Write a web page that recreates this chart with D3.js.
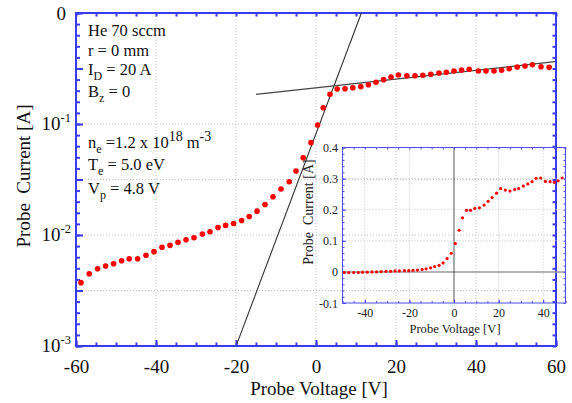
<!DOCTYPE html>
<html><head><meta charset="utf-8">
<script src="https://cdn.jsdelivr.net/npm/d3@7"></script>
<style>
html,body{margin:0;padding:0;background:#fff;}
svg{display:block;font-family:"Liberation Serif","Times New Roman",serif;}
</style></head><body>
<svg id="chart" width="572" height="403"></svg>
<script>
// ---- main (semi-log) data ----
const voltage = [-58.75,-56.7,-54.6,-52.6,-50.6,-48.6,-46.7,-44.6,-42.5,-40.5,-38.5,-36.5,-34.5,-32.5,-30.5,-28.4,-26.5,-24.5,-22.6,-20.6,-18.6,-16.7,-14.75,-12.75,-10.75,-8.75,-6.7,-5,-3.2,-1.25,0.4,1.8,3.5,5.3,7.25,9.2,11.2,13.1,15,16.9,18.75,20.6,22.7,24.75,26.7,28.7,30.75,32.6,34.5,36.4,38.3,40.6,42.5,44.5,46.4,48.3,50.3,52.25,54.1,56.25,58.3];
const current = [0.00372,0.00448,0.00497,0.00526,0.00551,0.00586,0.00611,0.00611,0.00656,0.00708,0.00775,0.00807,0.00859,0.00907,0.00946,0.0102,0.0107,0.0117,0.0122,0.0127,0.0135,0.0147,0.0164,0.0188,0.0221,0.0260,0.0302,0.0377,0.0497,0.0679,0.098,0.140,0.185,0.207,0.208,0.212,0.217,0.226,0.238,0.251,0.265,0.276,0.272,0.272,0.275,0.281,0.288,0.292,0.300,0.307,0.311,0.300,0.300,0.300,0.305,0.315,0.326,0.333,0.342,0.328,0.324];
// fit lines
const steepFitV = [-19.8, 11.35];
const steepFitI = [0.00104, 1];
const flatFitV = [-15, 59.75];
const flatFitI = [0.185, 0.364];
// ticks
const xTicks = [-60,-40,-20,0,20,40,60];
const yTickExp = [-3,-2,-1,0];
const yTickBase = ["10","10","10","0"];
const yTickSup = ["-3","-2","-1",""];
// ---- inset (linear) data ----
const insetVoltage = [-49.2,-47.2,-45,-42.9,-41,-38.9,-36.8,-34.7,-32.7,-30.5,-28.4,-26.4,-24.5,-22.2,-20.3,-18.4,-16.4,-14.3,-12.5,-10.5,-8.7,-6.7,-4.9,-3.1,-1.2,0.6,2.3,3.8,5.6,7.4,9.3,11.4,13.5,15.3,17.1,19.1,20.9,23,25.1,27.2,29,31.1,33.1,35,36.8,38.9,41,43.1,45,46.7,48.5];
const insetCurrent = [-0.002,-0.002,-0.002,-0.002,-0.001,-0.001,0,0,0.001,0.002,0.002,0.003,0.003,0.004,0.004,0.005,0.006,0.008,0.010,0.013,0.017,0.021,0.029,0.043,0.060,0.091,0.134,0.174,0.198,0.198,0.204,0.206,0.215,0.227,0.239,0.253,0.268,0.263,0.260,0.265,0.268,0.276,0.283,0.290,0.301,0.302,0.291,0.290,0.288,0.293,0.302];
const insetXTicks = [-40,-20,0,20,40];
const insetYTicks = [-0.1,0,0.1,0.2,0.3,0.4];
const insetYLabels = ["-0.1","0","0.1","0.2","0.3","0.4"];
// annotation lines: [main, subscript, rest, superscript, rest2, superscript2]
const infoLines = [
  [["He 70 sccm",""]],
  [["r = 0 mm",""]],
  [["I",""],["D","sub"],[" = 20 A",""]],
  [["B",""],["z","sub"],[" = 0",""]],
  [["n",""],["e","sub"],[" =1.2 x 10",""],["18","sup"],[" m",""],["-3","sup"]],
  [["T",""],["e","sub"],[" = 5.0 eV",""]],
  [["V",""],["p","sub"],[" = 4.8 V",""]]
];
const infoBaselines = [36, 55.5, 74.5, 96.5, 147.5, 170, 193.5];

const blue = "#3a3af2";
const svg = d3.select("#chart");
svg.append("rect").attr("width",572).attr("height",403).attr("fill","#fff");

const L=76, R=556, T=13, B=346;
const x = d3.scaleLinear().domain([-60,60]).range([L,R]);
const y = d3.scaleLog().domain([1e-3,1]).range([B,T]);

// grid
const grid = svg.append("g").attr("stroke","#c4c4c4").attr("stroke-width",1).attr("stroke-dasharray","1,2");
[-40,-20,0,20,40].forEach(v=>grid.append("line").attr("x1",x(v)).attr("x2",x(v)).attr("y1",T).attr("y2",B));
[-2.5,-2,-1.5,-1].forEach(e=>grid.append("line").attr("x1",L).attr("x2",R).attr("y1",y(Math.pow(10,e))).attr("y2",y(Math.pow(10,e))));

// axes ticks
function styleAxis(g){ g.select(".domain").remove(); g.selectAll("line").attr("stroke",blue).attr("stroke-width",2); }
const minorX = d3.range(-60,61,5), majorX = d3.range(-60,61,20);
const minorY = d3.range(0,31).map(k=>Math.pow(10,-3+k*0.1));
const majorY = d3.range(0,7).map(k=>Math.pow(10,-3+k*0.5));
svg.append("g").attr("transform",`translate(0,${B})`).call(d3.axisBottom(x).tickValues(minorX).tickSize(-3.5).tickFormat("")).call(styleAxis);
svg.append("g").attr("transform",`translate(0,${B})`).call(d3.axisBottom(x).tickValues(majorX).tickSize(-6).tickFormat("")).call(styleAxis);
svg.append("g").attr("transform",`translate(0,${T})`).call(d3.axisTop(x).tickValues(minorX).tickSize(-3.5).tickFormat("")).call(styleAxis);
svg.append("g").attr("transform",`translate(${L},0)`).call(d3.axisLeft(y).tickValues(minorY).tickSize(-4).tickFormat("")).call(styleAxis);
svg.append("g").attr("transform",`translate(${L},0)`).call(d3.axisLeft(y).tickValues(majorY).tickSize(-7).tickFormat("")).call(styleAxis);
svg.append("g").attr("transform",`translate(${R},0)`).call(d3.axisRight(y).tickValues(minorY).tickSize(-3.5).tickFormat("")).call(styleAxis);
// frame
svg.append("rect").attr("x",L).attr("y",T).attr("width",R-L).attr("height",B-T).attr("fill","none").attr("stroke",blue).attr("stroke-width",2);

// x tick labels
const xl = svg.append("g").attr("transform",`translate(0,${B})`).call(d3.axisBottom(x).tickValues(xTicks).tickSize(0).tickFormat(d=>String(d)));
xl.select(".domain").remove();
xl.selectAll("text").attr("dy",null).attr("y",27).attr("font-size",19).attr("fill","#111").attr("font-family","Liberation Serif");
// y tick labels
yTickExp.forEach((e,i)=>{
  const yy = y(Math.pow(10,e));
  const t = svg.append("text").attr("text-anchor","end").attr("font-size",19).attr("fill","#111");
  if(yTickSup[i]){
    t.attr("x",71).attr("y",yy+5.5);
    t.append("tspan").text(yTickBase[i]);
    t.append("tspan").attr("dy",-8).attr("font-size",12.5).text(yTickSup[i]);
  } else {
    t.attr("x",66).attr("y",yy+7).text(yTickBase[i]);
  }
});

// fit lines
const lineGen = d3.line().x(d=>x(d[0])).y(d=>y(d[1]));
svg.append("path").datum(steepFitV.map((v,i)=>[v,steepFitI[i]])).attr("d",lineGen).attr("fill","none").attr("stroke","#333").attr("stroke-width",1.1);
svg.append("path").datum(flatFitV.map((v,i)=>[v,flatFitI[i]])).attr("d",lineGen).attr("fill","none").attr("stroke","#444").attr("stroke-width",1.3);

// data
svg.append("g").selectAll("circle").data(voltage.map((v,i)=>[v,current[i]])).join("circle")
  .attr("cx",d=>x(d[0])).attr("cy",d=>y(d[1])).attr("r",2.8).attr("fill","#f00");

// axis titles
svg.append("text").attr("x",319).attr("y",395).attr("text-anchor","middle").attr("font-size",19).attr("fill","#111").text("Probe Voltage [V]");
svg.append("text").attr("transform","translate(30,176) rotate(-90)").attr("text-anchor","middle").attr("font-size",19).attr("fill","#111").style("white-space","pre").text("Probe  Current [A]");

// annotations
infoLines.forEach((segs,i)=>{
  const t = svg.append("text").attr("x",88).attr("y",infoBaselines[i]).attr("font-size",16.5).attr("fill","#111").style("white-space","pre");
  segs.forEach(([s,kind])=>{
    const sp = t.append("tspan").text(s);
    if(kind==="sub"){ sp.attr("font-size",12).attr("dy",5); }
    else if(kind==="sup"){ sp.attr("font-size",14).attr("dy",-7); }
    else { sp.attr("dy",0); }
  });
  // reset baseline after shifted segments
  let shift=0;
  t.selectAll("tspan").each(function(){
    const k = segs[d3.select(this).datum ? 0 : 0];
  });
});
// fix dy so text returns to baseline after sub/sup
svg.selectAll("text").each(function(){
  const spans = d3.select(this).selectAll("tspan").nodes();
  let cur = 0;
  spans.forEach(n=>{
    const fs = n.getAttribute("font-size");
    let target = 0;
    const dyv = +(n.getAttribute("dy")||0);
    if(dyv===5) target=5; else if(dyv===-7) target=-7; else if(dyv===-8) target=-8; else target=0;
    n.setAttribute("dy", target-cur);
    cur = target;
  });
});

// ---- inset ----
const iL=342.5, iR=565.5, iT=147.5, iB=303;
const ix = d3.scaleLinear().domain([-50,50]).range([iL,iR]);
const iy = d3.scaleLinear().domain([-0.1,0.4]).range([iB,iT]);
const ig = svg.append("g").attr("stroke","#c4c4c4").attr("stroke-width",1).attr("stroke-dasharray","1,2");
[-40,-20,20,40].forEach(v=>ig.append("line").attr("x1",ix(v)).attr("x2",ix(v)).attr("y1",iT).attr("y2",iB));
[0.1,0.2,0.3].forEach(v=>ig.append("line").attr("x1",iL).attr("x2",iR).attr("y1",iy(v)).attr("y2",iy(v)));
svg.append("line").attr("x1",iL).attr("x2",iR).attr("y1",iy(0)).attr("y2",iy(0)).attr("stroke","#999").attr("stroke-width",1.5);
svg.append("line").attr("x1",ix(0)).attr("x2",ix(0)).attr("y1",iT).attr("y2",iB).attr("stroke","#555").attr("stroke-width",1);

function styleIn(g){ g.select(".domain").remove(); g.selectAll("line").attr("stroke","#4b4bf0").attr("stroke-width",1); }
const iMinX = d3.range(-50,51,5), iMajX=[-40,-20,0,20,40];
const iMinY = d3.range(0,26).map(k=>-0.1+k*0.02), iMajY = insetYTicks;
svg.append("g").attr("transform",`translate(0,${iB})`).call(d3.axisBottom(ix).tickValues(iMinX).tickSize(-2).tickFormat("")).call(styleIn);
svg.append("g").attr("transform",`translate(0,${iB})`).call(d3.axisBottom(ix).tickValues(iMajX).tickSize(-3.5).tickFormat("")).call(styleIn);
svg.append("g").attr("transform",`translate(0,${iT})`).call(d3.axisTop(ix).tickValues(iMinX).tickSize(-2).tickFormat("")).call(styleIn);
svg.append("g").attr("transform",`translate(${iL},0)`).call(d3.axisLeft(iy).tickValues(iMinY).tickSize(-2).tickFormat("")).call(styleIn);
svg.append("g").attr("transform",`translate(${iL},0)`).call(d3.axisLeft(iy).tickValues(iMajY).tickSize(-3.5).tickFormat("")).call(styleIn);
svg.append("g").attr("transform",`translate(${iR},0)`).call(d3.axisRight(iy).tickValues(iMinY).tickSize(-2).tickFormat("")).call(styleIn);
svg.append("rect").attr("x",iL).attr("y",iT).attr("width",iR-iL).attr("height",iB-iT).attr("fill","none").attr("stroke","#4b4bf0").attr("stroke-width",1);

svg.append("g").selectAll("circle").data(insetVoltage.map((v,i)=>[v,insetCurrent[i]])).join("circle")
  .attr("cx",d=>ix(d[0])).attr("cy",d=>iy(d[1])).attr("r",1.6).attr("fill","#f00");

const ixl = svg.append("g").attr("transform",`translate(0,${iB})`).call(d3.axisBottom(ix).tickValues(insetXTicks).tickSize(0).tickFormat(d=>String(d)));
ixl.select(".domain").remove();
ixl.selectAll("text").attr("dy",null).attr("y",14).attr("font-size",12).attr("fill","#222").attr("font-family","Liberation Serif");
const iyl = svg.append("g").attr("transform",`translate(${iL},0)`).call(d3.axisLeft(iy).tickValues(insetYTicks).tickSize(0).tickFormat((d,i)=>insetYLabels[i]));
iyl.select(".domain").remove();
iyl.selectAll("text").attr("dy",null).attr("y",4).attr("x",-4.5).attr("font-size",12).attr("fill","#222").attr("font-family","Liberation Serif");

svg.append("text").attr("x",455).attr("y",333).attr("text-anchor","middle").attr("font-size",12.6).attr("fill","#222").text("Probe Voltage [V]");
svg.append("text").attr("transform","translate(313,212) rotate(-90)").attr("text-anchor","middle").attr("font-size",14).attr("fill","#222").style("white-space","pre").text("Probe  Current [A]");
</script>
</body></html>
